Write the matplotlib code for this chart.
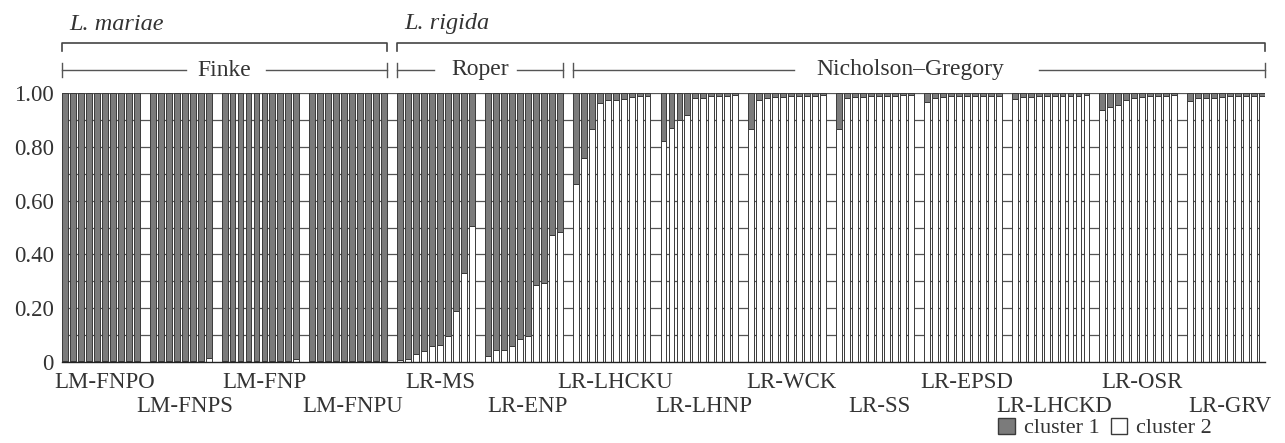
import matplotlib
matplotlib.use('Agg')
import matplotlib.pyplot as plt
from matplotlib.patches import Patch
import matplotlib.transforms as mtrans
import numpy as np

plt.rcParams['font.family'] = ['Liberation Serif', 'DejaVu Serif']

W, H = 1285, 443
TXT = '#333333'
GRAY = '#7b7b7b'
EDGE = '#3a3a3a'

# ---- data: proportion of cluster 2 (white) per individual; cluster 1 = 1 - cluster 2
populations = ['LM-FNPO', 'LM-FNPS', 'LM-FNP', 'LM-FNPU', 'LR-MS', 'LR-ENP',
               'LR-LHCKU', 'LR-LHNP', 'LR-WCK', 'LR-SS', 'LR-EPSD', 'LR-LHCKD',
               'LR-OSR', 'LR-GRV']

c2_fnpo = [0.005, 0.005, 0.005, 0.005, 0.005, 0.005, 0.005, 0.005, 0.005, 0.005]
c2_fnps = [0.005, 0.005, 0.005, 0.005, 0.005, 0.005, 0.005, 0.015]
c2_fnp = [0.005, 0.005, 0.005, 0.005, 0.005, 0.005, 0.005, 0.005, 0.005, 0.012]
c2_fnpu = [0.005, 0.005, 0.005, 0.005, 0.005, 0.005, 0.005, 0.005, 0.005, 0.005]
c2_ms = [0.006, 0.010, 0.030, 0.040, 0.060, 0.064, 0.096, 0.190, 0.330, 0.505]
c2_enp = [0.024, 0.046, 0.046, 0.060, 0.087, 0.097, 0.287, 0.294, 0.472, 0.484]
c2_lhcku = [0.660, 0.760, 0.866, 0.963, 0.973, 0.973, 0.978, 0.984, 0.988, 0.988]
c2_lhnp = [0.820, 0.870, 0.900, 0.920, 0.980, 0.980, 0.990, 0.990, 0.990, 0.994]
c2_wck = [0.866, 0.973, 0.980, 0.985, 0.985, 0.988, 0.988, 0.988, 0.988, 0.994]
c2_ss = [0.866, 0.980, 0.985, 0.985, 0.988, 0.988, 0.988, 0.988, 0.994, 0.994]
c2_epsd = [0.965, 0.980, 0.985, 0.988, 0.988, 0.988, 0.988, 0.988, 0.988, 0.988]
c2_lhckd = [0.978, 0.985, 0.985, 0.988, 0.988, 0.988, 0.988, 0.988, 0.988, 0.994]
c2_osr = [0.935, 0.948, 0.957, 0.973, 0.980, 0.984, 0.988, 0.988, 0.988, 0.994]
c2_grv = [0.969, 0.980, 0.980, 0.980, 0.984, 0.988, 0.988, 0.988, 0.988, 0.988]

cluster2_by_pop = [c2_fnpo, c2_fnps, c2_fnp, c2_fnpu, c2_ms, c2_enp, c2_lhcku,
                   c2_lhnp, c2_wck, c2_ss, c2_epsd, c2_lhckd, c2_osr, c2_grv]

regions = ['Finke', 'Roper', 'Nicholson\u2013Gregory']
region_groups = [(0, 3), (4, 5), (6, 13)]
species = ['L. mariae', 'L. rigida']
species_groups = [(0, 3), (4, 13)]

ytick_vals = [0, 0.2, 0.4, 0.6, 0.8, 1.0]
ytick_labels = ['0', '0.20', '0.40', '0.60', '0.80', '1.00']
legend_labels = ['cluster 1', 'cluster 2']

# ---- layout-only settings
bar_w = 0.74
region_text_shift_px = [0, 0, -9]          # horizontal nudge of region names
region_gaps_px = [(12, 15), (17, 8), (22, 35)]  # line gap left/right of name

xs, vals, group_first, group_last = [], [], [], []
slot = 0
for g in cluster2_by_pop:
    group_first.append(slot)
    for v in g:
        xs.append(slot)
        vals.append(v)
        slot += 1
    group_last.append(slot - 1)
    slot += 1
xs = np.array(xs, dtype=float)
vals = np.array(vals)

fig = plt.figure(figsize=(W / 100, H / 100), dpi=100)
ax = fig.add_axes([62 / W, 81 / H, (1265 - 62) / W, (362 - 93) / H])

for y in np.arange(0.1, 1.001, 0.1):
    ax.axhline(y, color='#555555', lw=0.9, zorder=0)

ax.bar(xs, vals, width=bar_w, color='white', edgecolor=EDGE, lw=0.7, zorder=2)
ax.bar(xs, 1 - vals, bottom=vals, width=bar_w, color=GRAY, edgecolor=EDGE,
       lw=0.7, zorder=2)

ax.set_xlim(xs[0] - bar_w / 2, xs[-1] + bar_w / 2)
ax.set_ylim(0, 1)
for s in ['top', 'left', 'right']:
    ax.spines[s].set_visible(False)
ax.spines['bottom'].set_color('#222222')
ax.spines['bottom'].set_linewidth(1.0)
ax.spines['bottom'].set_zorder(3)
ax.set_xticks([])
ax.set_yticks(ytick_vals)
ax.set_yticklabels(ytick_labels)
ax.tick_params(axis='y', length=0, pad=6, labelsize=16.5, labelcolor=TXT)

blend = mtrans.blended_transform_factory(ax.transData, fig.transFigure)
label_offset = mtrans.ScaledTranslation(4 / 100, 0, fig.dpi_scale_trans)

def fy(py):
    return 1 - py / H

# population labels (staggered rows)
for i, name in enumerate(populations):
    cx = (group_first[i] + group_last[i]) / 2
    py = 383 if i % 2 == 0 else 406
    ax.text(cx, fy(py), name, transform=blend + label_offset, ha='center',
            va='center', fontsize=16.5, color=TXT)

# species brackets
for name, (a, b) in zip(species, species_groups):
    x0 = group_first[a] - bar_w / 2
    x1 = group_last[b] + bar_w / 2
    ax.plot([x0, x0, x1, x1], [fy(51), fy(43), fy(43), fy(51)], transform=blend,
            color='#444444', lw=1.2, clip_on=False)
    ax.text(x0 + 0.9, fy(24), name, transform=blend, ha='left', va='center',
            fontsize=17.5, style='italic', color=TXT)

# region lines with names
fig.canvas.draw()
renderer = fig.canvas.get_renderer()
inv = ax.transData.inverted()
px = ax.transData.transform
for k, (name, (a, b)) in enumerate(zip(regions, region_groups)):
    x0 = group_first[a] - bar_w / 2
    x1 = group_last[b] + bar_w / 2
    cpx = (px((x0, 0))[0] + px((x1, 0))[0]) / 2 + region_text_shift_px[k]
    cx = inv.transform((cpx, 0))[0]
    t = ax.text(cx, fy(70), name, transform=blend, ha='center', va='center',
                fontsize=17, color=TXT)
    bb = t.get_window_extent(renderer)
    gl, gr = region_gaps_px[k]
    tl = inv.transform((bb.x0 - gl, 0))[0]
    tr = inv.transform((bb.x1 + gr, 0))[0]
    ax.plot([x0, tl], [fy(70), fy(70)], transform=blend, color='#555555',
            lw=1.0, clip_on=False)
    ax.plot([tr, x1], [fy(70), fy(70)], transform=blend, color='#555555',
            lw=1.0, clip_on=False)
    for xe in (x0, x1):
        ax.plot([xe, xe], [fy(63), fy(77)], transform=blend, color='#555555',
                lw=1.0, clip_on=False)

handles = [Patch(facecolor=GRAY, edgecolor=EDGE, label=legend_labels[0]),
           Patch(facecolor='white', edgecolor=EDGE, label=legend_labels[1])]
fig.legend(handles=handles, loc='center right', bbox_to_anchor=(1212 / W, fy(428)),
           ncol=2, frameon=False, handlelength=0.75, handleheight=0.75,
           columnspacing=0.5, handletextpad=0.4, fontsize=16, labelcolor=TXT,
           borderaxespad=0, borderpad=0)

fig.savefig('out.png', dpi=100)
